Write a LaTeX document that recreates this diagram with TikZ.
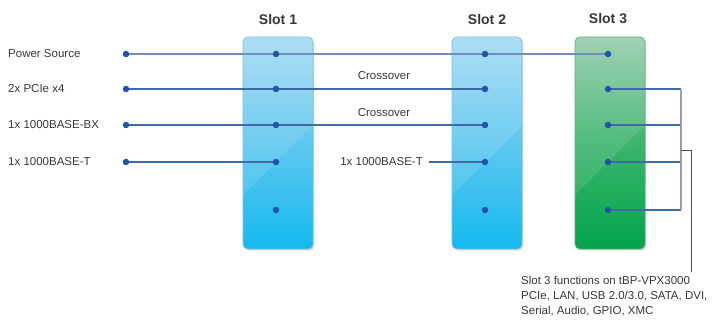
\documentclass[tikz,border=0pt]{standalone}
\usepackage{fontspec}
\setmainfont{Liberation Sans}
\usetikzlibrary{shadows}
\definecolor{txt}{RGB}{55,55,55}
\definecolor{wire}{RGB}{65,105,165}
\definecolor{wirelt}{RGB}{120,140,185}
\definecolor{dotc}{RGB}{30,85,170}
\definecolor{bluetop}{RGB}{165,218,243}
\definecolor{bluemid}{RGB}{95,200,240}
\definecolor{bluebot}{RGB}{20,185,238}
\definecolor{blueedge}{RGB}{120,190,225}
\definecolor{greentop}{RGB}{150,205,172}
\definecolor{greenmid}{RGB}{60,180,110}
\definecolor{greenbot}{RGB}{0,165,75}
\definecolor{greenedge}{RGB}{90,170,120}
\definecolor{brk}{RGB}{150,155,185}
\definecolor{tick}{RGB}{80,80,80}
\pgfdeclarelayer{bg}
\pgfdeclarelayer{wires}
\pgfsetlayers{bg,wires,main}
\tikzset{
  slotbox/.style={draw, line width=0.8pt, rounded corners=5pt, minimum width=70pt, minimum height=212pt, inner sep=0pt,
    drop shadow={opacity=0.35, shadow xshift=1.2pt, shadow yshift=-1.5pt}},
  blueslot/.style={slotbox, draw=blueedge, top color=bluetop, bottom color=bluebot, middle color=bluemid},
  greenslot/.style={slotbox, draw=greenedge, top color=greentop, bottom color=greenbot, middle color=greenmid},
  dot/.style={circle, fill=dotc, inner sep=0pt, minimum size=6.5pt},
  lbl/.style={font=\fontsize{11.5}{13}\selectfont, text=txt, inner sep=0pt},
  slotlbl/.style={font=\fontsize{14}{16}\selectfont\bfseries, text=txt},
  wireln/.style={draw=wire, line width=1.1pt},
}
\begin{document}
\begin{tikzpicture}[x=1pt,y=-1pt]
\useasboundingbox (0,0) rectangle (713,320);
% slots
\begin{pgfonlayer}{bg}
\node[blueslot] (s1) at (278,143) {};
\node[blueslot] (s2) at (487,143) {};
\node[greenslot] (s3) at (610,143) {};
\foreach \xl in {243,452,575}{
  \begin{scope}
    \clip[rounded corners=5pt] (\xl,37) rectangle ++(70,212);
    \fill[white,opacity=0.10] (\xl,37) -- (\xl,195) .. controls (\xl+30,165) and (\xl+55,140) .. (\xl+70,125) -- (\xl+70,37) -- cycle;
  \end{scope}
}
\end{pgfonlayer}
\node[slotlbl] (t1) at (278,19) {Slot 1};
\node[slotlbl] (t2) at (487,19) {Slot 2};
\node[slotlbl] (t3) at (608,19) {Slot 3};
% left labels and dots
\node[lbl,anchor=west] (n1) at (8,54) {Power Source};
\node[lbl,anchor=west] (n2) at (8,89) {2x PCIe x4};
\node[lbl,anchor=west] (n3) at (8,125) {1x 1000BASE-BX};
\node[lbl,anchor=west] (n4) at (8,162) {1x 1000BASE-T};
\foreach \i/\y in {1/54,2/89,3/125,4/162}{
  \node[dot] (L\i) at (126,\y) {};
}
\foreach \i/\y in {1/54,2/89,3/125,4/162,5/210}{
  \node[dot] (A\i) at (276,\y) {};
  \node[dot] (B\i) at (485,\y) {};
  \node[dot] (C\i) at (608,\y) {};
}
\node[lbl] (x1) at (384,76) {Crossover};
\node[lbl] (x2) at (384,113) {Crossover};
\node[lbl,anchor=east,inner xsep=6pt] (b4) at (429,162) {1x 1000BASE-T};
\coordinate (br) at (681,0);
\coordinate (tk) at (681,150);
\coordinate (tk2) at (691,150);
\coordinate (tkend) at (691,272);
\node[lbl,anchor=north west,align=left,font=\fontsize{11.5}{15}\selectfont] (desc) at (521,276)
  {Slot 3 functions on tBP-VPX3000\\PCIe, LAN, USB 2.0/3.0, SATA, DVI,\\Serial, Audio, GPIO, XMC};
% wires
\begin{pgfonlayer}{wires}
\draw[draw=wirelt, line width=1.1pt] (L1.center) -- (C1.center);
\draw[wireln] (L2.center) -- (B2.center);
\draw[wireln] (L3.center) -- (B3.center);
\draw[wireln] (L4.center) -- (A4.center);
\draw[wireln] (b4.east) -- (B4.center);
\foreach \i in {2,3,4,5}{
  \draw[wireln] (C\i.center) -- (C\i.center -| br);
}
\draw[draw=brk, line width=1.2pt] (C2.center -| br) -- (C5.center -| br);
\draw[draw=tick, line width=0.8pt] (tk) -- (tk2) -- (tkend);
\end{pgfonlayer}
\end{tikzpicture}
\end{document}
